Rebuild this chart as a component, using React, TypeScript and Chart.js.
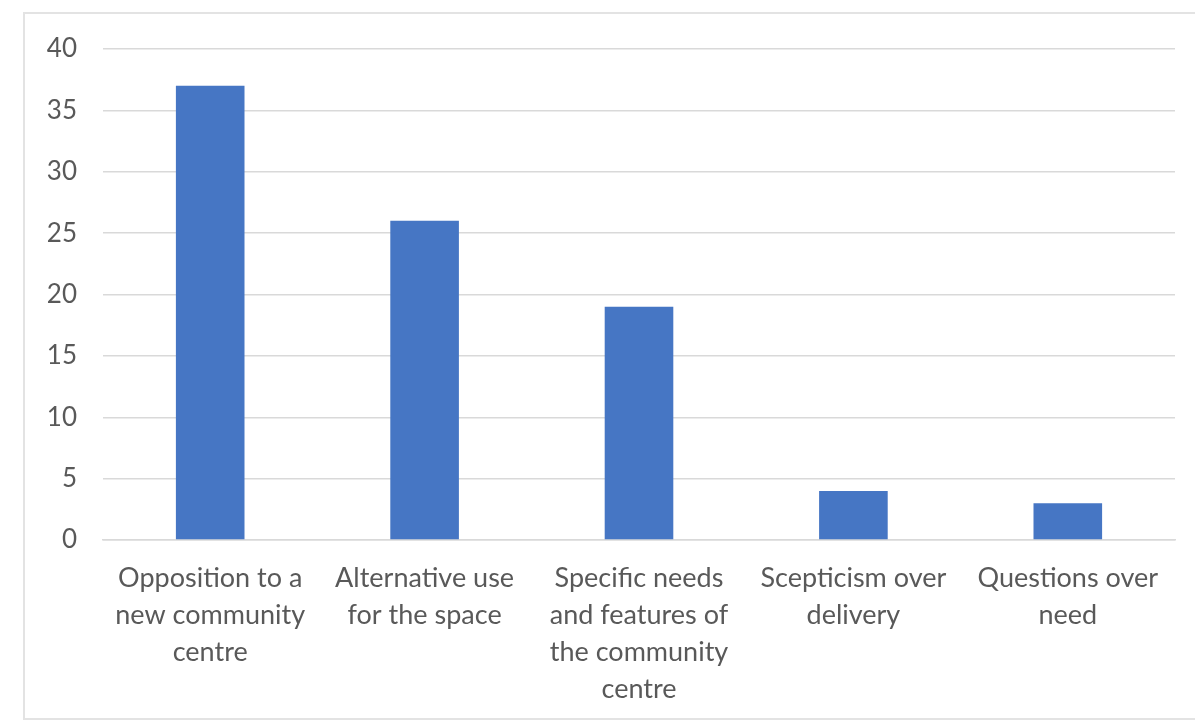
import React, { useEffect, useRef } from "react";
import { Chart, registerables } from "chart.js";

Chart.register(...registerables);

const categories: string[][] = [
  ["Opposition to a", "new community", "centre"],
  ["Alternative use", "for the space"],
  ["Specific needs", "and features of", "the community", "centre"],
  ["Scepticism over", "delivery"],
  ["Questions over", "need"],
];

const counts: number[] = [37, 26, 19, 4, 3];

const yMin = 0;
const yMax = 40;
const yStep = 5;

const FONT = "Lato, 'Open Sans', sans-serif";
const TEXT = "#595959";
const GRID = "#d9d9d9";

export default function App() {
  const ref = useRef<HTMLCanvasElement | null>(null);

  useEffect(() => {
    if (!ref.current) return;
    const chart = new Chart(ref.current, {
      type: "bar",
      data: {
        labels: categories,
        datasets: [
          {
            data: counts,
            backgroundColor: "#4676C4",
            barPercentage: 0.32,
            categoryPercentage: 1,
          },
        ],
      },
      options: {
        animation: false,
        responsive: false,
        maintainAspectRatio: false,
        layout: { padding: { top: 49, right: 20, bottom: 0, left: 0 } },
        plugins: { legend: { display: false }, tooltip: { enabled: false } },
        scales: {
          x: {
            grid: { display: false, drawTicks: false },
            border: { display: true, color: GRID, width: 1.5 },
            ticks: {
              color: TEXT,
              font: { family: FONT, size: 27, lineHeight: 1.37 },
              padding: 20,
              maxRotation: 0,
              autoSkip: false,
            },
            afterFit: (s: any) => {
              s.height = 184;
            },
          },
          y: {
            min: yMin,
            max: yMax,
            grid: { color: GRID, lineWidth: 1.5, drawTicks: false },
            border: { display: false },
            ticks: {
              stepSize: yStep,
              color: TEXT,
              font: { family: FONT, size: 26 },
              padding: 26,
            },
            afterFit: (s: any) => {
              s.width = 103;
            },
          },
        },
      },
    });
    return () => chart.destroy();
  }, []);

  return (
    <div
      style={{
        position: "fixed",
        left: 0,
        top: 0,
        width: 1195,
        height: 724,
        background: "#ffffff",
        overflow: "hidden",
      }}
    >
      <div
        style={{
          position: "absolute",
          left: 23,
          top: 12,
          width: 1200,
          height: 708,
          border: "2px solid #e3e3e3",
          boxSizing: "border-box",
        }}
      />
      <canvas
        ref={ref}
        width={1195}
        height={724}
        style={{ position: "absolute", left: 0, top: 0, width: 1195, height: 724 }}
      />
    </div>
  );
}
